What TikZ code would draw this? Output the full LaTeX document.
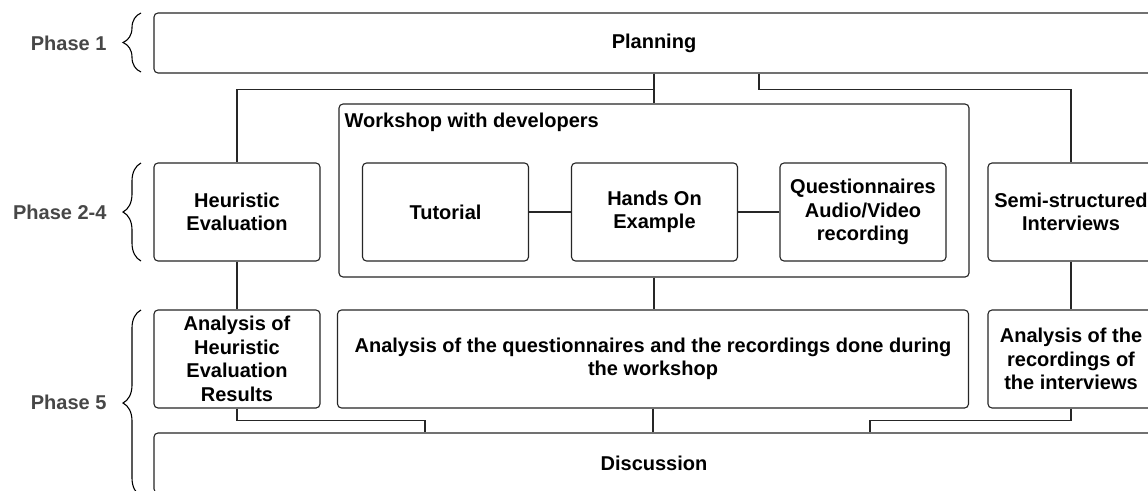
\documentclass[tikz,border=0pt]{standalone}
\usepackage{fontspec}
\setmainfont{Liberation Sans}
\usetikzlibrary{calc,decorations.pathreplacing}
\tikzset{
	box/.style={draw=black!85, line width=1.1, rounded corners=4, align=center, inner sep=0,
		font=\bfseries\fontsize{20}{23.5}\selectfont, minimum width=166, minimum height=98},
	phase/.style={anchor=east, text=black!72, font=\bfseries\fontsize{20}{24}\selectfont},
	link/.style={draw=black!85, line width=1.1},
	bracket/.style={draw=black, line width=1.1, decorate, decoration={brace, amplitude=18, aspect=0.5}}
}

\begin{document}
\begin{tikzpicture}[x=1pt, y=-1pt]
			%%%%% START %%%%%
			\fill[white] (0, 0) rectangle (1148, 490);
			\useasboundingbox (0, 0) rectangle (1148, 490);
			
			\node[box, minimum width=1000, minimum height=60] (plan) at (654, 43) {Planning};
			
			\node[box, minimum width=630, minimum height=173] (work) at (654, 190.5) {};
			\node[anchor=base west, inner sep=0, font=\bfseries\fontsize{20}{23.5}\selectfont] (worktitle)
				at ([shift={(6, 24)}]work.north west) {Workshop with developers};
			
			\node[box] (heur) at (237, 212) {Heuristic\\Evaluation};
			\node[box] (tut) at (445.5, 212) {Tutorial};
			\node[box] (hands) at (654.5, 212) {Hands On\\Example};
			\node[box] (quest) at (863, 212) {Questionnaires\\Audio/Video\\recording};
			\node[box] (semi) at (1071, 212) {Semi-structured\\Interviews};
			
			\node[box] (aheur) at (237, 359) {Analysis of\\Heuristic\\Evaluation\\Results};
			\node[box, minimum width=631] (aquest) at (653, 359) {Analysis of the questionnaires and the recordings done during\\the workshop};
			\node[box] (aint) at (1071, 359) {Analysis of the\\recordings of\\the interviews};
			
			\node[box, minimum width=1000, minimum height=60] (disc) at (654, 463) {Discussion};
			
			% phases
			\node[phase] (p1) at (110, 43) {Phase 1};
			\node[phase] (p2) at (110, 212) {Phase 2-4};
			\node[phase] (p5) at (110, 402) {Phase 5};
			\draw[bracket] (141, 72) -- (141, 13);
			\draw[bracket] (141, 261) -- (141, 163);
			\draw[bracket] (141, 496) -- (141, 310);
			
			% connectors
			\draw[link] (plan.south) -- ++(0, 16) -| (heur.north);
			\draw[link] (plan.south) -- (work.north);
			\draw[link] ([xshift=105]plan.south) -- ++(0, 16) -| (semi.north);
			\draw[link] (tut.east) -- (hands.west);
			\draw[link] (hands.east) -- (quest.west);
			\draw[link] (heur.south) -- (aheur.north);
			\draw[link] (work.south) -- (work.south |- aquest.north);
			\draw[link] (semi.south) -- (aint.north);
			\draw[link] (aheur.south) -- ++(0, 12) -| ([xshift=-229]disc.north);
			\draw[link] (aquest.south) -- (aquest.south |- disc.north);
			\draw[link] (aint.south) -- ++(0, 12) -| ([xshift=216]disc.north);
			%%%%% END %%%%%
\end{tikzpicture}
\end{document}
